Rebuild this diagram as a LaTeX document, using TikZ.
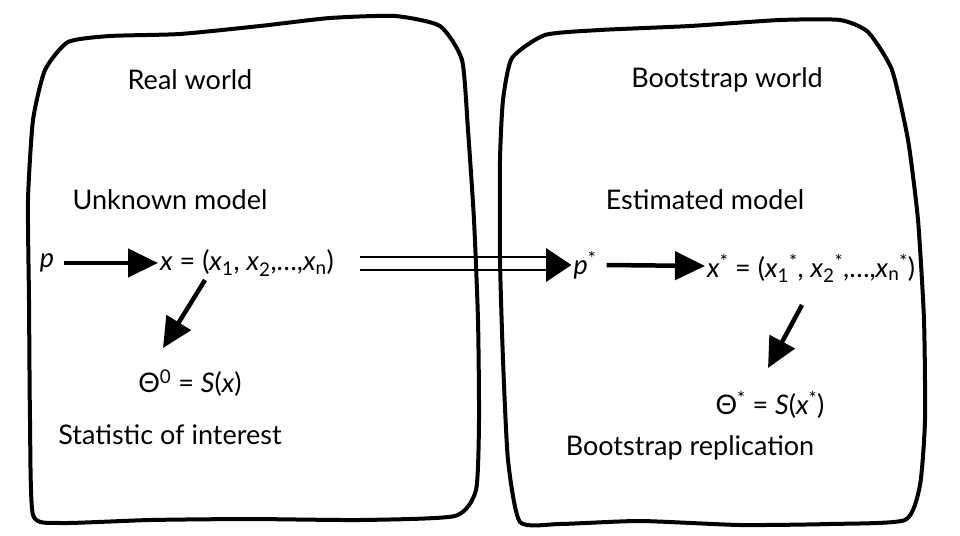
\documentclass[tikz,border=0pt]{standalone}
\usepackage{fontspec}
\setmainfont{Lato}
\usetikzlibrary{arrows.meta,calc}
\newcommand{\sbs}[1]{\textsubscript{#1}}
\newcommand{\sps}[1]{\textsuperscript{#1}}
\begin{document}
\begin{tikzpicture}[x=1pt,y=-1pt,
  lbl/.style={font=\fontsize{27}{31}\selectfont,inner sep=2pt},
  blob/.style={line width=4pt,line join=round},
  big/.style={line width=4.5pt,-{Triangle[length=30pt,width=28pt]}}]
\useasboundingbox (0,0) rectangle (960,535);
\fill[white] (0,0) rectangle (960,535);
\draw[blob] plot[smooth cycle,tension=0.35] coordinates {(68,42) (110,36) (180,34) (260,26) (330,18) (395,16) (440,26) (462,60) (468,130) (474,220) (478,320) (479,420) (476,490) (455,516) (360,520) (250,519) (150,520) (60,523) (33,515) (30,420) (29,300) (28,200) (33,120) (45,70)};
\draw[blob] plot[smooth cycle,tension=0.35] coordinates {(512,58) (545,35) (600,30) (690,26) (780,20) (840,20) (868,32) (892,70) (908,140) (918,220) (924,320) (925,420) (920,485) (905,520) (830,524) (740,525) (640,521) (560,524) (520,522) (508,460) (503,360) (500,260) (500,160) (503,100)};
\node[lbl] (rw) at (190,80) {Real world};
\node[lbl] (um) at (170,200) {Unknown model};
\node[lbl] (p) at (47,263) {\textit{p}};
\node[lbl,anchor=west] (x) at (158,263) {\textit{x} = (\textit{x}\sbs{1}, \textit{x}\sbs{2},…,\textit{x}\sbs{n})};
\node[lbl] (th) at (190,383) {Θ\sps{0} = \textit{S}(\textit{x})};
\node[lbl] (si) at (170,435) {Statistic of interest};
\node[lbl] (bw) at (727,80) {Bootstrap world};
\node[lbl] (em) at (705,200) {Estimated model};
\node[lbl] (ps) at (585,265) {\textit{p}\sps{*}};
\node[lbl,anchor=west] (xs) at (705,268) {\textit{x}\sps{*} = (\textit{x}\sbs{1}\sps{*}, \textit{x}\sbs{2}\sps{*},…,\textit{x}\sbs{n}\sps{*})};
\node[lbl] (ts) at (770,405) {Θ\sps{*} = \textit{S}(\textit{x}\sps{*})};
\node[lbl] (br) at (690,448) {Bootstrap replication};
\coordinate (a1) at (205,280); \coordinate (a2) at (163,348);
\coordinate (b1) at (802,305); \coordinate (b2) at (768,368);
\draw[big] ($(p.east)+(8,0)$) -- (x.west);
\draw[big] ($(ps.east)+(8,0)$) -- ($(xs.west)+(0,-2)$);
\draw[big] (a1) -- (a2);
\draw[big] (b1) -- (b2);
\coordinate (d1) at (360,257); \coordinate (d2) at (360,270);
\draw[line width=2pt] (d1) -- (550,257) (d2) -- (550,270);
\fill (546,248) -- (ps.west) -- (546,282) -- cycle;
\end{tikzpicture}
\end{document}
